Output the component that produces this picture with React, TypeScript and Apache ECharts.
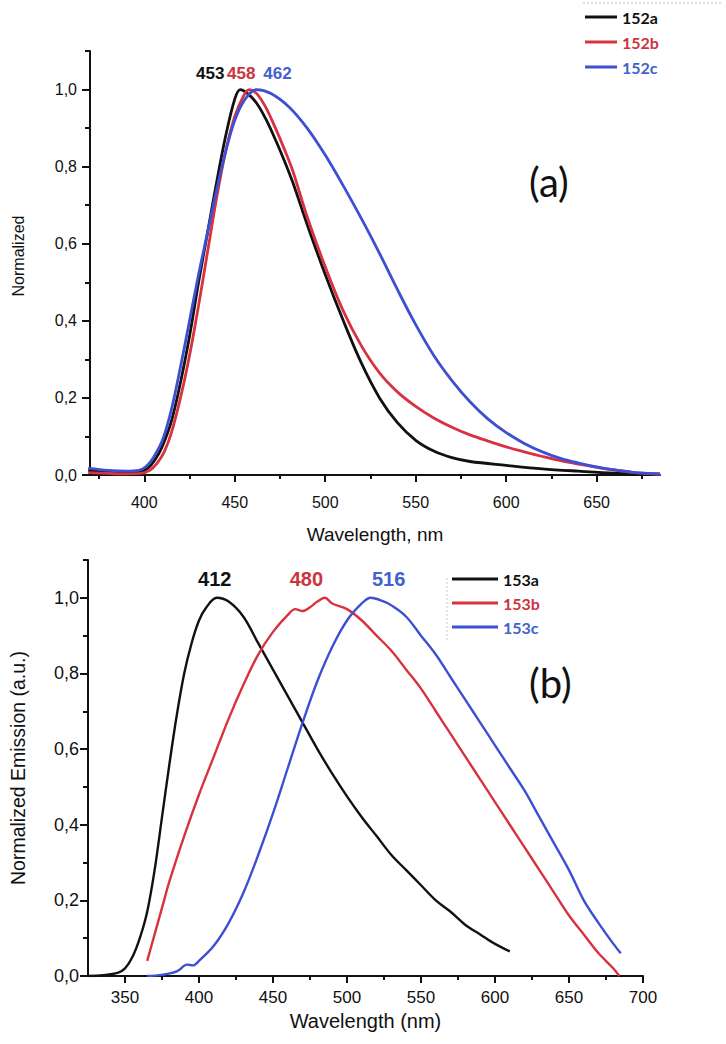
import React, { useEffect, useRef } from "react";
import * as echarts from "echarts";

// ---------- Panel (a) data ----------
const A_X_TICKS = [400, 450, 500, 550, 600, 650];
const A_X_MINOR = [375, 425, 475, 525, 575, 625, 675];
const Y_TICKS = [0, 0.2, 0.4, 0.6, 0.8, 1.0];
const Y_MINOR = [0.1, 0.3, 0.5, 0.7, 0.9, 1.1];

const WL_152A = [369, 380, 390, 397, 402, 406, 410, 415, 420, 425, 430, 435, 440, 445, 450, 453, 457, 462, 467, 472, 477, 482, 490, 500, 510, 520, 530, 540, 550, 560, 570, 580, 600, 620, 640, 660, 685];
const Y_152A = [0.012, 0.008, 0.006, 0.008, 0.018, 0.04, 0.075, 0.14, 0.24, 0.36, 0.5, 0.63, 0.76, 0.88, 0.975, 1.0, 0.99, 0.965, 0.925, 0.875, 0.82, 0.76, 0.65, 0.52, 0.4, 0.29, 0.2, 0.135, 0.09, 0.062, 0.045, 0.035, 0.025, 0.016, 0.01, 0.005, 0.002];

const WL_152B = [369, 380, 390, 398, 403, 407, 411, 415, 420, 425, 430, 435, 440, 445, 450, 455, 458, 462, 467, 472, 477, 482, 490, 500, 510, 520, 530, 540, 550, 560, 570, 580, 590, 600, 610, 620, 630, 640, 650, 660, 670, 685];
const Y_152B = [0.006, 0.004, 0.003, 0.004, 0.012, 0.03, 0.06, 0.11, 0.2, 0.31, 0.44, 0.58, 0.72, 0.84, 0.93, 0.985, 1.0, 0.99, 0.955, 0.905, 0.85, 0.79, 0.67, 0.54, 0.425, 0.335, 0.265, 0.215, 0.178, 0.148, 0.124, 0.104, 0.088, 0.073, 0.06, 0.048, 0.037, 0.028, 0.02, 0.013, 0.007, 0.002];

const WL_152C = [369, 380, 390, 397, 401, 405, 410, 415, 420, 425, 430, 435, 440, 445, 450, 455, 462, 470, 480, 490, 500, 510, 520, 530, 540, 550, 560, 570, 580, 590, 600, 610, 620, 630, 640, 650, 660, 670, 685];
const Y_152C = [0.018, 0.012, 0.01, 0.012, 0.022, 0.045, 0.09, 0.17, 0.28, 0.4, 0.52, 0.63, 0.74, 0.84, 0.92, 0.97, 1.0, 0.99, 0.955, 0.9, 0.83, 0.75, 0.665, 0.575, 0.48, 0.39, 0.31, 0.245, 0.19, 0.145, 0.11, 0.082, 0.06, 0.043, 0.031, 0.021, 0.013, 0.007, 0.003];

// ---------- Panel (b) data ----------
const B_X_TICKS = [350, 400, 450, 500, 550, 600, 650, 700];
const B_X_MINOR = [375, 425, 475, 525, 575, 625, 675];

const WL_153A = [325, 335, 345, 350, 355, 360, 365, 370, 375, 380, 385, 390, 395, 400, 405, 412, 420, 430, 440, 450, 460, 470, 480, 490, 500, 510, 520, 530, 540, 550, 560, 570, 580, 590, 600, 610];
const Y_153A = [0.0, 0.002, 0.008, 0.02, 0.05, 0.1, 0.17, 0.28, 0.42, 0.56, 0.69, 0.8, 0.88, 0.94, 0.975, 1.0, 0.99, 0.95, 0.88, 0.81, 0.74, 0.67, 0.6, 0.535, 0.475, 0.42, 0.37, 0.32, 0.28, 0.24, 0.2, 0.17, 0.135, 0.11, 0.085, 0.065];

const WL_153B = [365, 370, 375, 380, 390, 400, 410, 420, 430, 440, 450, 460, 465, 470, 475, 480, 485, 490, 500, 510, 520, 530, 540, 550, 560, 570, 580, 590, 600, 610, 620, 630, 640, 650, 660, 670, 680, 684];
const Y_153B = [0.04, 0.11, 0.18, 0.25, 0.37, 0.48, 0.58, 0.68, 0.77, 0.85, 0.91, 0.955, 0.97, 0.965, 0.975, 0.99, 1.0, 0.985, 0.97, 0.94, 0.9, 0.86, 0.81, 0.76, 0.7, 0.64, 0.58, 0.52, 0.46, 0.4, 0.34, 0.28, 0.22, 0.16, 0.11, 0.06, 0.02, 0.0];

const WL_153C = [365, 375, 385, 392, 396, 400, 410, 420, 430, 440, 450, 460, 470, 480, 490, 500, 510, 516, 525, 530, 540, 550, 560, 570, 580, 590, 600, 610, 620, 630, 640, 650, 660, 670, 680, 685];
const Y_153C = [0.0, 0.003, 0.012, 0.03, 0.028, 0.04, 0.08, 0.14, 0.22, 0.32, 0.43, 0.55, 0.67, 0.78, 0.87, 0.94, 0.985, 1.0, 0.99, 0.98, 0.95, 0.9, 0.85, 0.79, 0.73, 0.67, 0.61, 0.55, 0.49, 0.42, 0.35, 0.28, 0.2, 0.14, 0.085, 0.06];

const BLACK = "#111111";
const RED = "#d8323f";
const BLUE = "#3d4fd2";
const RED_TXT = "#cc3340";
const BLUE_TXT = "#4360d0";

const FONT = "Liberation Sans";
const zip = (xs: number[], ys: number[]) => xs.map((x, i) => [x, ys[i]]);
const fmt = (v: number) => v.toFixed(1).replace(".", ",");

function xAxes(grid: number, min: number, max: number, ticks: number[], minor: number[], name: string, labelSize: number, margin: number, nameGap: number, nameSize: number) {
  return [
    {
      type: "value", gridIndex: grid, min, max, position: "bottom",
      axisLine: { show: true, lineStyle: { color: BLACK, width: 2 } },
      axisTick: { show: true, customValues: ticks, length: 7, lineStyle: { color: BLACK, width: 2 } },
      axisLabel: { customValues: ticks, fontSize: labelSize, color: BLACK, fontFamily: FONT, margin },
      splitLine: { show: false },
      name, nameLocation: "middle", nameGap,
      nameTextStyle: { fontSize: nameSize, color: BLACK, fontFamily: FONT },
    },
    {
      type: "value", gridIndex: grid, min, max, position: "bottom",
      axisLine: { show: false },
      axisTick: { show: true, customValues: minor, length: 4, lineStyle: { color: BLACK, width: 2 } },
      axisLabel: { show: false },
      splitLine: { show: false },
    },
  ];
}

function yAxes(grid: number, name: string, labelSize: number, margin: number, nameGap: number, nameSize: number) {
  return [
    {
      type: "value", gridIndex: grid, min: 0, max: 1.1, position: "left",
      axisLine: { show: true, lineStyle: { color: BLACK, width: 2 } },
      axisTick: { show: true, customValues: Y_TICKS, length: 8, lineStyle: { color: BLACK, width: 2 } },
      axisLabel: { customValues: Y_TICKS, formatter: fmt, fontSize: labelSize, color: BLACK, fontFamily: FONT, margin },
      splitLine: { show: false },
      name, nameLocation: "middle", nameGap,
      nameTextStyle: { fontSize: nameSize, color: BLACK, fontFamily: FONT },
    },
    {
      type: "value", gridIndex: grid, min: 0, max: 1.1, position: "left",
      axisLine: { show: false },
      axisTick: { show: true, customValues: Y_MINOR, length: 5, lineStyle: { color: BLACK, width: 2 } },
      axisLabel: { show: false },
      splitLine: { show: false },
    },
  ];
}

function series(name: string, xs: number[], ys: number[], color: string, xi: number, yi: number, peak: number, labelColor: string, offset: number[], fontSize: number, width: number) {
  return {
    name, type: "line", xAxisIndex: xi, yAxisIndex: yi,
    data: zip(xs, ys), smooth: 0.35, showSymbol: false, symbol: "none",
    lineStyle: { color, width }, itemStyle: { color },
    markPoint: {
      symbol: "circle", symbolSize: 0,
      data: [{ coord: [peak, 1.0], value: peak }],
      label: { show: true, formatter: String(peak), offset, color: labelColor, fontSize, fontWeight: "bold", fontFamily: FONT },
    },
  };
}

function legend(names: string[], colors: string[], left: number, top: number, itemWidth: number, gap: number) {
  return {
    orient: "vertical", left, top, icon: "rect", itemWidth, itemHeight: 3, itemGap: gap,
    selectedMode: false,
    data: names.map((n, i) => ({ name: n, textStyle: { color: colors[i] } })),
    textStyle: { fontSize: 16, fontWeight: "bold", fontFamily: "Lato", lineHeight: 16 },
  };
}

export default function App() {
  const ref = useRef<HTMLDivElement>(null);
  useEffect(() => {
    const chart = echarts.init(ref.current as HTMLDivElement, null, { renderer: "svg" });
    const option = {
      animation: false,
      backgroundColor: "#ffffff",
      grid: [
        { left: 90, top: 51, right: 66, bottom: 569, containLabel: false },
        { left: 86, top: 560, right: 83, bottom: 68, containLabel: false },
      ],
      xAxis: [
        ...xAxes(0, 370, 685, A_X_TICKS, A_X_MINOR, "Wavelength, nm", 16, 19, 50, 19),
        ...xAxes(1, 325, 700, B_X_TICKS, B_X_MINOR, "Wavelength (nm)", 17, 13, 35, 20),
      ],
      yAxis: [
        ...yAxes(0, "", 16, 13, 60, 16),
        ...yAxes(1, "Normalized Emission (a.u.)", 18, 9, 60, 19.5),
      ],
      legend: [
        legend(["152a", "152b", "152c"], [BLACK, RED_TXT, BLUE_TXT], 580, 4, 32, 9),
        legend(["153a", "153b", "153c"], [BLACK, RED_TXT, BLUE_TXT], 447, 566, 46, 8),
      ],
      series: [
        series("152a", WL_152A, Y_152A, BLACK, 0, 0, 453, BLACK, [-30, -16], 17, 2.8),
        series("152b", WL_152B, Y_152B, RED, 0, 0, 458, RED_TXT, [-8, -16], 17, 2.8),
        series("152c", WL_152C, Y_152C, BLUE, 0, 0, 462, BLUE_TXT, [21, -16], 17, 2.8),
        series("153a", WL_153A, Y_153A, BLACK, 2, 2, 412, BLACK, [-2, -19], 20, 2.4),
        series("153b", WL_153B, Y_153B, RED, 2, 2, 480, RED_TXT, [-11, -19], 20, 2.4),
        series("153c", WL_153C, Y_153C, BLUE, 2, 2, 516, BLUE_TXT, [18, -19], 20, 2.4),
      ],
      graphic: [
        { type: "line", shape: { x1: 583, y1: 3, x2: 722, y2: 3 }, style: { stroke: "#bbbbbb", lineWidth: 1, lineDash: [2, 2] } },
        { type: "line", shape: { x1: 447, y1: 578, x2: 447, y2: 640 }, style: { stroke: "#cccccc", lineWidth: 1, lineDash: [2, 2] } },
        {
          type: "text", x: 18, y: 256, rotation: Math.PI / 2,
          style: { text: "Normalized", fontSize: 16, fontFamily: FONT, fill: BLACK, align: "center", verticalAlign: "middle" },
        },
        { type: "text", left: 529, top: 162, style: { text: "(a)", fontSize: 40, fontFamily: "Lato", fill: BLACK } },
        { type: "text", left: 529, top: 663, style: { text: "(b)", fontSize: 40, fontFamily: "Lato", fill: BLACK } },
      ],
    };
    chart.setOption(option as any);
    return () => chart.dispose();
  }, []);
  return (
    <div
      ref={ref}
      style={{ position: "absolute", left: 0, top: 0, width: 726, height: 1044, background: "#fff" }}
    />
  );
}
